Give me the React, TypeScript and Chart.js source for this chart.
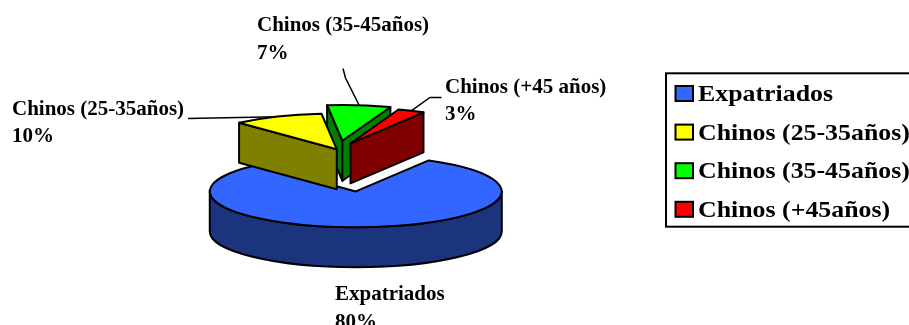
import React, { useEffect, useRef } from 'react';
import { Chart, registerables } from 'chart.js';

Chart.register(...registerables);

// ---- data ----
const categories = ['Expatriados', 'Chinos (25-35años)', 'Chinos (35-45años)', 'Chinos (+45años)'];
const sliceLabels = ['Expatriados', 'Chinos (25-35años)', 'Chinos (35-45años)', 'Chinos (+45 años)'];
const values = [80, 10, 7, 3];

// ---- styles ----
const topColors = ['#3366FF', '#FFFF00', '#00FF00', '#FF0000'];
const sideColors = ['#1C347E', '#808000', '#008000', '#800000'];
const explode = [170, 3, 38, 30];
const labelPos: [number, number][] = [[335, 300], [12, 114.5], [257, 31], [445, 92.5]];
const leaderPts: [number, number][][] = [[], [[188, 118.5]], [[343, 68.5], [345.5, 78]], [[441.5, 97.5], [430, 97.5]]];
const LABEL_FONT = 'bold 21px "Liberation Serif", "Times New Roman", serif';
const LEGEND_FONT = 'bold 23.5px "Liberation Serif", "Times New Roman", serif';

function drawSlice(ctx: CanvasRenderingContext2D, g: any, top: string, side: string, t: number, depth: number) {
  const { cx, cy, R, a0, a1 } = g;
  const ry = R * t;
  const px = (a: number) => cx + R * Math.cos(a);
  const py = (a: number) => cy + ry * Math.sin(a);
  ctx.save();
  ctx.lineWidth = 2;
  ctx.strokeStyle = '#000';
  ctx.lineJoin = 'round';
  const quad = (a: number) => {
    ctx.beginPath();
    ctx.moveTo(cx, cy);
    ctx.lineTo(px(a), py(a));
    ctx.lineTo(px(a), py(a) + depth);
    ctx.lineTo(cx, cy + depth);
    ctx.closePath();
    ctx.fillStyle = side;
    ctx.fill();
    ctx.stroke();
  };
  if (Math.cos(a0) < 0) quad(a0);
  if (Math.cos(a1) > 0) quad(a1);
  for (let k = -1; k <= 1; k++) {
    const lo = Math.max(a0, 2 * Math.PI * k);
    const hi = Math.min(a1, Math.PI + 2 * Math.PI * k);
    if (hi > lo) {
      ctx.beginPath();
      ctx.ellipse(cx, cy, R, ry, 0, lo, hi, false);
      ctx.lineTo(px(hi), py(hi) + depth);
      ctx.ellipse(cx, cy + depth, R, ry, 0, hi, lo, true);
      ctx.closePath();
      ctx.fillStyle = side;
      ctx.fill();
      ctx.stroke();
    }
  }
  ctx.beginPath();
  ctx.moveTo(cx, cy);
  ctx.ellipse(cx, cy, R, ry, 0, a0, a1, false);
  ctx.closePath();
  ctx.fillStyle = top;
  ctx.fill();
  ctx.stroke();
  ctx.restore();
}

const pie3d = {
  id: 'pie3d',
  beforeDatasetsDraw(chart: any, _args: any, opts: any) {
    const ctx: CanvasRenderingContext2D = chart.ctx;
    const arcs = chart.getDatasetMeta(0).data;
    const t = opts.tilt;
    const depth = opts.depth;
    const geo = arcs.map((arc: any, i: number) => {
      const p = arc.getProps(['x', 'y', 'startAngle', 'endAngle', 'outerRadius'], true);
      const mid = (p.startAngle + p.endAngle) / 2;
      const e = opts.explode[i] || 0;
      return {
        cx: p.x + Math.cos(mid) * e,
        cy: p.y + Math.sin(mid) * e * t,
        R: p.outerRadius,
        a0: p.startAngle,
        a1: p.endAngle,
        mid,
      };
    });
    // leader lines
    ctx.save();
    ctx.strokeStyle = '#000';
    ctx.lineWidth = 1.5;
    geo.forEach((g: any, i: number) => {
      const pts = opts.leaders[i];
      if (!pts || !pts.length) return;
      ctx.beginPath();
      ctx.moveTo(pts[0][0], pts[0][1]);
      for (let k = 1; k < pts.length; k++) ctx.lineTo(pts[k][0], pts[k][1]);
      ctx.lineTo(g.cx + g.R * Math.cos(g.mid), g.cy + g.R * t * Math.sin(g.mid));
      ctx.stroke();
    });
    ctx.restore();
    const ds = chart.data.datasets[0];
    opts.order.forEach((i: number) => {
      drawSlice(ctx, geo[i], ds.backgroundColor[i], opts.sideColors[i], t, depth);
    });
    return false;
  },
  afterDraw(chart: any, _args: any, opts: any) {
    const ctx: CanvasRenderingContext2D = chart.ctx;
    const ds = chart.data.datasets[0];
    const data: number[] = ds.data;
    const total = data.reduce((a, b) => a + b, 0);
    ctx.save();
    ctx.fillStyle = '#000';
    ctx.textBaseline = 'alphabetic';
    ctx.textAlign = 'left';
    ctx.font = LABEL_FONT;
    data.forEach((v, i) => {
      const [x, y] = opts.labelPos[i];
      ctx.fillText(opts.sliceLabels[i], x, y);
      ctx.fillText(Math.round((v / total) * 100) + '%', x, y + opts.lineGap);
    });
    // legend
    const L = opts.legend;
    ctx.lineWidth = 2;
    ctx.strokeStyle = '#000';
    ctx.strokeRect(L.x, L.y, L.w, L.h);
    ctx.font = LEGEND_FONT;
    chart.data.labels.forEach((lab: string, i: number) => {
      const base = L.firstBaseline + i * L.rowGap;
      ctx.fillStyle = ds.backgroundColor[i];
      ctx.fillRect(L.boxX, base - L.boxH, L.boxW, L.boxH);
      ctx.strokeRect(L.boxX, base - L.boxH, L.boxW, L.boxH);
      ctx.save();
      ctx.translate(L.textX, base);
      ctx.scale(L.stretch, 1);
      ctx.fillStyle = '#000';
      ctx.fillText(lab, 0, 0);
      ctx.restore();
    });
    ctx.restore();
  },
};

export default function App() {
  const ref = useRef<HTMLCanvasElement>(null);
  useEffect(() => {
    if (!ref.current) return;
    const chart = new Chart(ref.current, {
      type: 'pie',
      data: {
        labels: categories,
        datasets: [
          {
            data: values,
            backgroundColor: topColors,
            borderWidth: 0,
            hoverBorderWidth: 0,
            hoverOffset: 0,
            offset: 0,
          } as any,
        ],
      },
      options: {
        animation: false,
        responsive: false,
        rotation: 30,
        events: [],
        layout: { padding: { left: 192, right: 425, top: 4, bottom: 29 } },
        plugins: {
          legend: { display: false },
          tooltip: { enabled: false },
          pie3d: {
            tilt: 0.245,
            depth: 40,
            explode,
            sideColors,
            order: [0, 2, 3, 1],
            leaders: leaderPts,
            labelPos,
            sliceLabels,
            lineGap: 27.5,
            legend: {
              x: 666, y: 73.3, w: 300, h: 153.4,
              boxX: 675.5, boxW: 17.5, boxH: 15,
              textX: 698, firstBaseline: 101, rowGap: 38.6, stretch: 1.1,
            },
          },
        } as any,
      },
      plugins: [pie3d as any],
    });
    return () => chart.destroy();
  }, []);
  return (
    <div style={{ position: 'absolute', left: 0, top: 0, width: 909, height: 325, overflow: 'hidden', background: '#fff' }}>
      <canvas ref={ref} width={909} height={325} style={{ display: 'block' }} />
    </div>
  );
}
